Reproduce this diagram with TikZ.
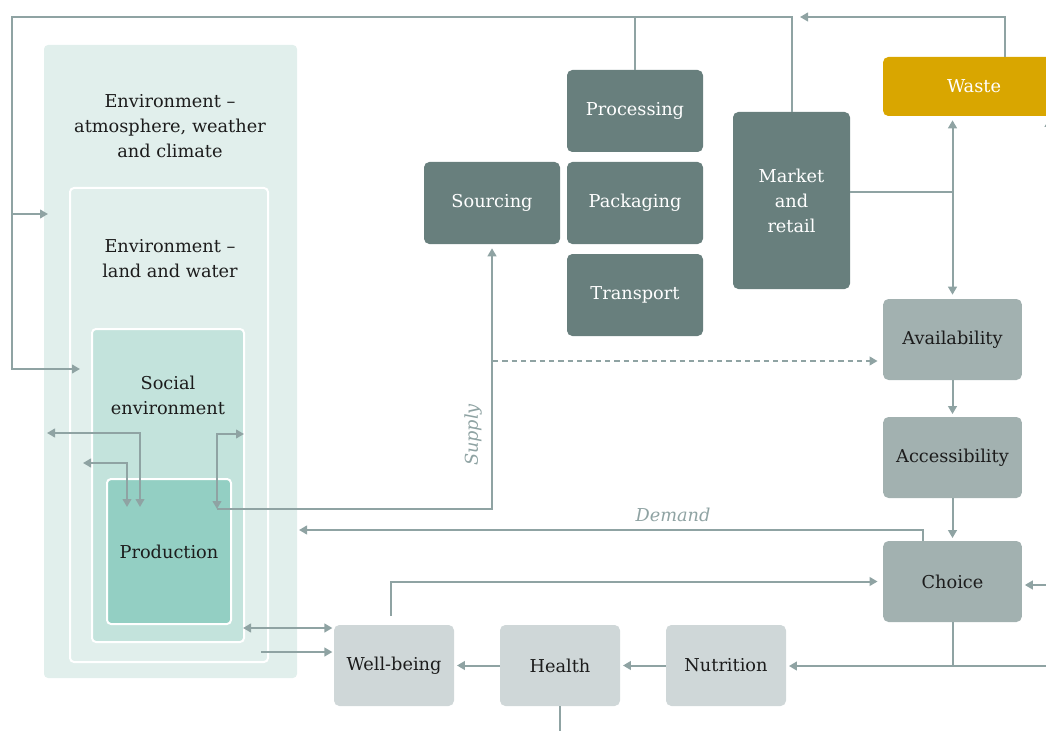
\documentclass[tikz,border=0pt]{standalone}
\usepackage{fontspec}
\setmainfont{DejaVu Serif}
\usepackage{tikz}
\usetikzlibrary{arrows.meta, positioning, calc}
\definecolor{chainteal}{HTML}{687F7D}
\definecolor{consgray}{HTML}{A2B1B0}
\definecolor{outgray}{HTML}{CFD7D8}
\definecolor{envlight}{HTML}{E1EFEC}
\definecolor{socialgreen}{HTML}{C3E3DC}
\definecolor{prodgreen}{HTML}{93CFC3}
\definecolor{wastegold}{HTML}{D9A600}
\definecolor{linkgray}{HTML}{8FA3A3}
\definecolor{inkdark}{HTML}{1C1C1C}

\begin{document}
\begin{tikzpicture}[x=0.75pt, y=-0.75pt,
  box/.style={rounded corners=4pt, font=\fontsize{13.3}{18.75}\selectfont, inner sep=2pt, align=center, text=inkdark},
  chain/.style={box, fill=chainteal, text=white, minimum width=102pt, minimum height=61.5pt},
  cons/.style={box, fill=consgray, minimum width=104pt, minimum height=60.75pt},
  outc/.style={box, fill=outgray, minimum width=90pt, minimum height=60.75pt},
  env/.style={rounded corners=3pt, draw=white, line width=1.5pt, inner sep=0pt},
  link/.style={draw=linkgray, line width=1.5pt},
  arr/.style={link, -{Triangle[length=6pt, width=6.5pt]}},
  biarr/.style={link, {Triangle[length=6pt, width=6.5pt]}-{Triangle[length=6pt, width=6.5pt]}},
  lbl/.style={font=\fontsize{13.3}{15}\selectfont\itshape, text=linkgray},
]
\useasboundingbox (0,0) rectangle (1046,731);

% Nested environments
\node[env, draw=none, fill=envlight, minimum width=189.75pt, minimum height=474.75pt] (atmo) at (170.5,361.5) {};
\node[env, fill=envlight, minimum width=148.5pt, minimum height=355.5pt] (land) at (169,425) {};
\node[env, fill=socialgreen, minimum width=114pt, minimum height=234.75pt] (social) at (168,485.5) {};
\node[env, fill=prodgreen, minimum width=93pt, minimum height=108.75pt,
      font=\fontsize{13.3}{18.75}\selectfont, text=inkdark] (prod) at (169,551.5) {Production};
\node[box] (atmolbl) at (170,126) {Environment –\\atmosphere, weather\\and climate};
\node[box] (landlbl) at (170,258.5) {Environment –\\land and water};
\node[box] (sociallbl) at (168,395.5) {Social\\environment};

% Supply chain
\node[chain] (proc) at (635,111) {Processing};
\node[chain] (pack) at (635,203) {Packaging};
\node[chain] (trans) at (635,295) {Transport};
\node[chain] (src) at (492,203) {Sourcing};
\node[chain, minimum width=87.75pt, minimum height=132.75pt] (market) at (791.5,200.5) {Market\\and\\retail};
\node[box, fill=wastegold, text=white, minimum width=136.5pt, minimum height=44.25pt] (waste) at (974,86.5) {Waste};

% Consumer side
\node[cons] (avail) at (952.5,339.5) {Availability};
\node[cons] (access) at (952.5,457.5) {Accessibility};
\node[cons] (choice) at (952.5,581.5) {Choice};
\node[outc] (well) at (394,665.5) {Well-being};
\node[outc] (health) at (560,665.5) {Health};
\node[outc] (nutri) at (726,665.5) {Nutrition};

% Free ends
\coordinate (loopcorner) at (12,17);
\coordinate (atmoin) at (48,214);
\coordinate (landin) at (80,369);
\coordinate (wastecorner) at (1005,17);
\coordinate (wasteend) at (800,17);
\coordinate (marketjoin) at (954,192);
\coordinate (demandend) at (299,530);
\coordinate (prodout) at (217,509);
\coordinate (socialout) at (244,434);
\coordinate (dashstart) at (493,361);
\coordinate (atmoout) at (47,433);
\coordinate (landout) at (83,463);
\coordinate (prodin1) at (140,507);
\coordinate (prodin2) at (127,507);
\coordinate (rightin) at (1050,666);
\coordinate (choicein) at (1050,585);
\coordinate (wastein) at (1049,200);
\coordinate (wellfrom) at (391,616);
\coordinate (socialwell) at (243,628);
\coordinate (landwell) at (261,652);

% Feedback to the environment
\draw[arr] (market.north) |- (loopcorner) |- (landin);
\draw[arr] (loopcorner |- atmoin) -- (atmoin);
\draw[link] (proc.north) -- (proc.north |- loopcorner);
\draw[arr] (waste.north -| wastecorner) -- (wastecorner) -- (wasteend);

% Market and waste
\draw[link] (market.east |- marketjoin) -- (avail.north |- marketjoin);
\draw[biarr, shorten <=3pt, shorten >=3pt] (avail.north) -- (avail.north |- waste.south);
\draw[arr, shorten >=2pt] (wastein) -- (wastein |- waste.south);

% Supply and demand
\draw[arr, shorten >=3pt] (prodout) -| (src.south);
\draw[biarr] (socialout) -| (prodout);
\node[lbl, rotate=90] (supply) at (473,435) {Supply};
\draw[arr, dashed, dash pattern=on 4pt off 3pt, shorten >=4pt] (dashstart) -- (dashstart -| avail.west);
\draw[arr] ([xshift=-22pt]choice.north) |- (demandend);
\node[lbl] (demand) at (673,515) {Demand};
\draw[biarr] (atmoout) -| (prodin1);
\draw[biarr] (landout) -| (prodin2);

% Consumer chain
\draw[arr, shorten >=2pt] (avail) -- (access);
\draw[arr, shorten >=2pt] (access) -- (choice);
\draw[arr, shorten >=2pt] (choicein) -- (choicein -| choice.east);
\draw[link] (choice.south) -- (choice.south |- rightin);
\draw[arr, shorten >=2pt] (rightin) -- (rightin -| nutri.east);
\draw[arr, shorten >=2pt] (nutri) -- (health);
\draw[arr, shorten >=2pt] (health) -- (well);
\draw[link] (health.south) -- ++(0,30);
\draw[arr, shorten >=4pt] (wellfrom) |- (choice.west);
\draw[biarr, shorten >=1pt] (socialwell) -- (socialwell -| well.west);
\draw[arr, shorten >=1pt] (landwell) -- (landwell -| well.west);
\end{tikzpicture}
\end{document}
